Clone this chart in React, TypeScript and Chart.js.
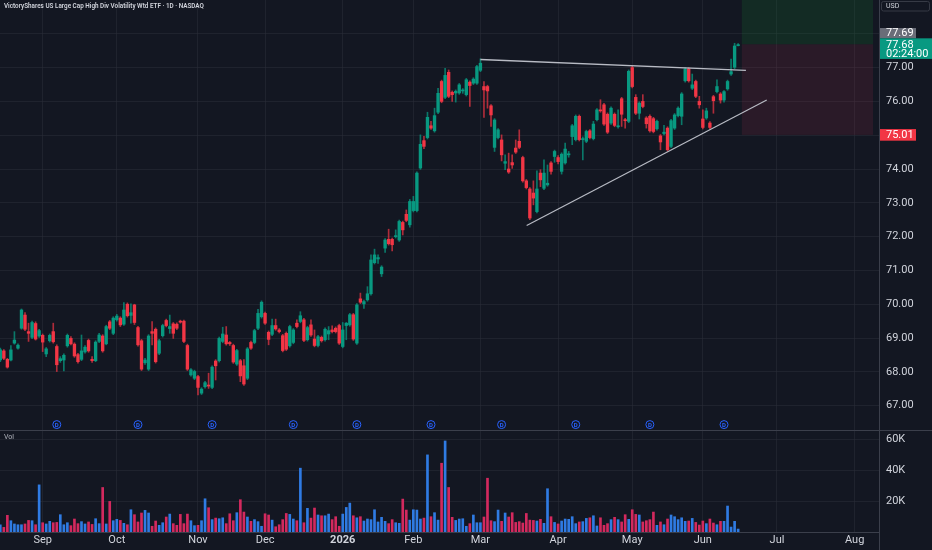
import React, { useEffect, useRef } from 'react';
import { Chart, registerables } from 'chart.js';

Chart.register(...registerables);

// ---------- data ----------
const TITLE = 'VictoryShares US Large Cap High Div Volatility Wtd ETF · 1D · NASDAQ';

const OPEN = [
  68.35,68.62,68.37,68.35,68.85,68.70,69.29,69.68,69.19,69.02,
  69.43,69.06,69.08,68.53,68.92,69.19,68.75,68.33,68.35,68.77,
  68.99,68.82,68.51,68.37,68.59,68.93,68.37,68.33,68.90,69.06,
  68.83,69.48,69.14,69.54,69.59,69.41,70.00,69.67,69.98,69.31,
  68.92,68.27,68.08,69.19,69.26,68.55,69.07,69.52,69.28,69.42,
  69.41,69.50,69.50,68.78,67.91,67.81,67.86,67.37,67.56,67.61,
  67.54,68.32,68.33,68.90,69.09,68.87,68.78,68.23,68.33,68.18,
  67.81,68.87,68.87,69.29,69.63,69.73,69.17,69.11,69.37,69.24,
  69.07,69.14,68.77,68.87,69.44,69.49,69.54,68.95,69.39,68.97,
  68.78,69.02,68.95,69.12,69.24,69.29,69.37,68.75,69.37,69.39,
  69.69,68.85,70.16,70.01,70.13,70.31,71.23,71.34,70.90,71.66,
  71.92,71.92,72.00,71.90,72.42,72.66,72.35,72.77,72.77,74.03,
  74.84,74.93,75.28,75.13,75.68,76.59,76.12,76.86,76.27,76.25,
  76.25,76.31,76.20,76.57,76.54,76.54,76.92,76.44,76.44,75.87,
  74.64,74.93,74.86,74.17,74.00,74.19,74.62,74.82,74.34,73.65,
  73.41,73.29,72.74,73.88,73.43,73.53,74.18,74.37,74.34,73.93,
  74.18,74.42,74.96,74.87,75.56,74.87,74.82,75.13,74.90,75.46,
  75.75,75.90,75.62,75.36,75.62,75.25,76.08,75.46,75.41,77.00,
  76.12,75.65,76.00,75.51,75.56,75.49,75.19,74.98,75.05,75.21,
  74.67,75.21,75.58,75.56,76.61,76.96,76.39,76.59,76.00,75.48,
  75.51,75.36,76.14,76.29,76.22,76.04,76.37,76.81,77.01,77.65,
];
const HIGH = [
  68.70,68.66,68.40,68.78,69.19,68.83,69.86,69.75,69.44,69.50,
  69.48,69.26,69.12,68.72,69.12,69.44,68.80,68.45,68.53,69.12,
  69.04,68.86,68.55,69.09,68.78,68.97,68.45,68.92,69.14,69.10,
  69.38,69.52,69.63,69.70,69.63,70.05,70.04,70.01,70.00,69.35,
  68.96,68.40,69.10,69.49,69.30,68.96,69.41,69.56,69.68,69.46,
  69.45,69.53,69.53,68.82,68.10,68.05,67.90,67.53,67.72,67.96,
  68.18,68.36,69.03,69.32,69.34,68.90,68.82,68.67,68.37,68.36,
  68.72,68.91,69.26,69.85,70.10,69.77,69.21,69.56,69.56,69.28,
  69.11,69.18,69.38,69.28,69.54,69.78,69.58,69.35,69.54,69.24,
  69.08,69.06,69.30,69.34,69.36,69.33,69.41,69.46,69.46,69.73,
  69.73,70.02,70.33,70.12,70.52,71.46,71.63,71.46,71.14,71.94,
  72.22,71.96,72.20,72.49,72.46,72.79,73.10,73.19,73.92,75.01,
  74.97,75.68,75.41,75.80,76.39,76.63,76.98,76.93,76.31,76.34,
  76.53,76.38,76.68,76.61,76.70,77.07,77.26,76.59,76.48,75.91,
  75.49,75.20,75.01,74.42,74.47,74.42,74.86,75.16,74.38,73.69,
  73.45,73.65,73.95,73.98,74.27,74.12,74.22,74.56,74.40,74.48,
  74.77,74.52,75.32,75.60,75.60,74.95,75.15,75.17,75.41,75.79,
  76.05,75.94,75.66,75.84,75.66,75.75,76.12,75.50,76.93,77.04,
  76.20,75.99,76.20,75.55,75.60,75.53,75.45,75.02,75.29,75.25,
  75.47,75.64,75.84,76.26,77.00,77.00,76.81,76.63,76.15,75.75,
  75.80,75.40,76.18,76.64,76.26,76.32,76.63,77.25,77.72,77.71,
];
const LOW = [
  68.30,68.36,68.11,68.32,68.82,68.67,69.26,69.22,68.90,68.98,
  68.94,69.02,68.60,68.45,68.88,68.85,68.01,68.28,68.03,68.73,
  68.80,68.43,68.26,68.33,68.55,68.58,68.28,68.30,68.86,68.58,
  68.80,69.25,69.10,69.50,69.34,69.37,69.62,69.44,69.40,68.76,
  68.04,68.22,68.04,68.80,68.26,68.51,69.03,69.33,69.14,68.99,
  69.25,69.44,68.86,68.04,67.87,67.77,67.32,67.33,67.52,67.51,
  67.50,67.76,68.29,68.86,68.79,68.78,68.25,68.19,67.71,67.60,
  67.77,68.66,68.83,69.25,69.59,69.40,68.80,69.07,69.23,69.15,
  68.59,68.63,68.73,68.83,69.30,69.45,68.89,68.91,69.05,68.74,
  68.74,68.88,68.91,68.95,69.15,69.15,68.81,68.71,68.95,69.35,
  68.93,68.81,70.02,69.88,70.09,70.27,71.19,71.21,70.82,71.53,
  71.75,71.58,71.96,71.86,72.05,72.44,72.28,72.73,72.73,73.99,
  74.60,74.89,75.17,75.09,75.64,75.96,76.08,76.11,76.00,75.98,
  76.21,76.24,76.16,75.85,76.50,76.50,76.88,75.53,75.80,75.26,
  74.52,74.89,74.24,73.98,73.87,74.02,74.46,74.60,73.61,73.41,
  72.50,72.94,72.70,73.48,73.39,73.49,73.85,74.20,74.15,73.85,
  74.14,74.35,74.72,74.83,74.83,74.27,74.78,74.89,74.86,75.42,
  75.68,75.29,75.05,75.32,75.25,75.21,75.26,75.21,75.37,76.40,
  75.61,75.48,75.81,75.21,75.09,75.07,75.15,74.57,75.01,74.53,
  74.63,75.17,75.54,75.31,76.57,76.57,76.35,76.11,75.80,75.19,
  75.47,75.19,75.65,76.25,75.95,75.98,76.33,76.77,76.97,77.64,
];
const CLOSE = [
  68.65,68.40,68.14,68.65,68.94,68.79,69.83,69.26,69.14,69.46,
  68.97,69.22,68.88,68.68,69.08,68.89,68.21,68.39,68.49,69.08,
  68.83,68.47,68.30,68.62,68.73,68.62,68.33,68.88,69.09,68.62,
  69.34,69.29,69.59,69.65,69.39,69.83,69.66,69.75,69.46,68.80,
  68.08,68.35,69.06,69.14,68.30,68.92,69.37,69.37,69.34,69.14,
  69.29,69.47,68.90,68.08,68.06,68.01,67.54,67.49,67.68,67.58,
  68.14,68.18,68.99,69.12,68.83,68.83,68.29,68.63,67.88,67.64,
  68.68,68.70,69.22,69.73,70.06,69.44,68.96,69.37,69.27,69.19,
  68.63,68.67,69.34,69.24,69.34,69.66,68.93,69.31,69.09,68.78,
  69.04,68.92,69.26,69.22,69.19,69.19,68.85,69.24,69.44,69.69,
  68.97,69.98,70.06,70.08,70.31,71.31,71.46,71.38,71.10,71.90,
  71.79,71.76,72.02,72.45,72.20,72.48,73.04,73.04,73.88,74.73,
  74.67,75.53,75.21,75.58,76.24,76.00,76.77,76.15,76.20,76.30,
  76.49,76.34,76.64,76.47,76.66,77.03,77.13,76.34,76.31,75.60,
  75.45,75.16,74.42,74.22,73.91,74.12,74.50,74.64,73.65,73.45,
  72.55,73.14,73.41,73.68,73.88,73.58,73.93,74.52,74.22,74.44,
  74.59,74.45,75.28,75.56,74.87,74.90,75.11,74.93,75.33,75.75,
  75.72,75.33,75.09,75.80,75.29,75.28,75.62,75.43,76.89,76.44,
  75.65,75.95,75.85,75.34,75.13,75.11,75.41,74.80,75.09,74.57,
  75.43,75.60,75.80,76.22,76.96,76.61,76.49,76.15,75.90,75.23,
  75.72,75.23,76.02,76.44,76.04,76.29,76.59,76.88,77.64,77.68,
];
const VOLUME_K = [
  4.7,3.0,10.8,7.3,5.2,4.7,4.7,5.2,7.5,7.3,
  4.7,30.5,6.0,5.2,6.9,6.0,6.2,11.2,4.7,6.0,
  4.1,8.4,5.4,6.7,5.2,6.5,4.9,8.6,5.4,28.8,
  5.2,19.8,7.3,8.2,7.5,5.6,4.7,14.4,11.2,6.5,
  12.3,14.0,12.3,3.7,7.1,4.3,6.0,9.7,11.6,5.4,
  4.3,11.4,5.4,11.6,7.3,4.1,4.3,7.3,21.5,15.7,
  8.0,9.0,8.6,9.2,5.4,11.8,7.3,12.5,20.9,12.9,
  9.7,6.9,8.0,6.7,3.7,11.8,11.0,7.7,3.4,4.7,
  8.0,12.0,11.4,8.4,7.3,41.3,6.0,15.3,9.0,15.5,
  11.0,10.5,10.5,11.6,8.0,9.9,3.7,11.6,15.9,18.7,
  10.5,9.2,9.9,7.1,8.4,8.0,14.4,6.5,9.5,6.9,
  5.4,8.0,6.0,5.6,21.3,14.2,7.7,14.4,14.2,8.4,
  9.0,49.9,9.9,12.5,7.7,44.5,58.9,28.8,9.5,7.5,
  8.4,8.6,3.7,5.4,11.0,6.0,6.0,9.7,34.8,7.3,
  6.7,14.2,6.9,12.3,9.7,12.5,6.2,6.7,5.8,12.0,
  7.7,7.5,7.1,8.2,5.6,28.0,9.9,6.2,5.2,7.1,
  8.4,8.2,9.9,5.4,6.5,6.7,8.8,9.2,10.5,3.9,
  9.2,4.3,5.4,8.0,9.5,8.0,6.5,11.2,8.2,14.4,
  11.4,11.0,6.5,7.3,8.0,12.9,4.3,6.5,4.7,8.4,
  11.0,9.9,8.0,9.2,6.9,7.1,8.8,6.2,4.5,7.1,
  5.4,8.4,5.8,4.7,6.9,6.9,16.8,3.2,6.9,1.9,
];

// month start positions (bar index of first trading day) and their labels
const MONTH_TICKS = [12, 33, 56, 75, 97, 117, 136, 158, 179, 199, 220, 242];
const MONTH_LABELS = ['Sep', 'Oct', 'Nov', 'Dec', '2026', 'Feb', 'Mar', 'Apr', 'May', 'Jun', 'Jul', 'Aug'];
const PRICE_TICKS = [67, 68, 69, 70, 71, 72, 73, 74, 75, 76, 77, 78];
const VOLUME_TICKS_K = [20, 40, 60];
const DIVIDEND_BARS = [16, 39, 60, 83, 101, 122, 142, 163, 184, 205];

// drawings
const RESISTANCE = [{ x: 136, y: 77.24 }, { x: 211.2, y: 76.92 }];
const SUPPORT = [{ x: 149.1, y: 72.33 }, { x: 217.1, y: 76.04 }];
const POSITION = { from: 210.05, to: 247.2, entry: 77.69, stop: 75.01, target: 80.5 };
const LAST_PRICE = 77.68;
const COUNTDOWN = '02:24:00';

// ---------- style ----------
const BG = '#131722';
const UP = '#089981';
const DOWN = '#f23645';
const VOL_UP = '#2f7be3';
const VOL_DOWN = '#d3295e';
const GRID = 'rgba(42,46,57,0.55)';
const LINE = '#3b3f4b';
const TEXT = '#d1d4dc';
const FONT = 'Roboto';

const isUp = (i: number) => CLOSE[i] >= OPEN[i];

const noPad = (s: any) => {
  s.paddingTop = 0;
  s.paddingBottom = 0;
  s.paddingLeft = 0;
  s.paddingRight = 0;
};

const overlayPlugin = {
  id: 'tvOverlay',
  beforeDraw(chart: any) {
    const { ctx } = chart;
    ctx.save();
    ctx.fillStyle = BG;
    ctx.fillRect(0, 0, chart.width, chart.height);
    ctx.restore();
  },
  beforeDatasetsDraw(chart: any) {
    const { ctx, scales } = chart;
    const x = scales.x, y = scales.y;
    const x0 = x.getPixelForValue(POSITION.from);
    const x1 = x.getPixelForValue(POSITION.to);
    const yT = y.getPixelForValue(POSITION.target);
    const yE = y.getPixelForValue(POSITION.entry);
    const yS = y.getPixelForValue(POSITION.stop);
    ctx.save();
    ctx.beginPath();
    ctx.rect(x.left, y.top, x.right - x.left, y.bottom - y.top);
    ctx.clip();
    ctx.fillStyle = 'rgba(22,110,48,0.24)';
    ctx.fillRect(x0, yT, x1 - x0, yE - yT);
    ctx.fillStyle = 'rgba(160,40,70,0.17)';
    ctx.fillRect(x0, yE, x1 - x0, yS - yE);
    ctx.restore();
  },
  afterDatasetsDraw(chart: any) {
    const { ctx } = chart;
    const meta = chart.getDatasetMeta(2);
    ctx.save();
    ctx.fillStyle = '#2962ff';
    ctx.font = `bold 6px ${FONT}`;
    ctx.textAlign = 'center';
    ctx.textBaseline = 'middle';
    meta.data.forEach((p: any) => ctx.fillText('D', p.x, p.y + 0.5));
    ctx.restore();
  },
  afterDraw(chart: any) {
    const { ctx, scales } = chart;
    const y = scales.y, yv = scales.yv;
    const axL = y.left;
    ctx.save();
    // separators
    ctx.strokeStyle = LINE;
    ctx.lineWidth = 1;
    ctx.beginPath();
    ctx.moveTo(0, Math.round(y.bottom) + 0.5);
    ctx.lineTo(chart.width, Math.round(y.bottom) + 0.5);
    ctx.moveTo(0, Math.round(yv.bottom) + 0.5);
    ctx.lineTo(axL, Math.round(yv.bottom) + 0.5);
    ctx.moveTo(Math.round(axL) + 0.5, 0);
    ctx.lineTo(Math.round(axL) + 0.5, chart.height);
    ctx.stroke();

    // title
    ctx.font = `600 8px ${FONT}`;
    const w = ctx.measureText(TITLE).width;
    const fs = (8 * 200) / w;
    ctx.font = `600 ${fs.toFixed(2)}px ${FONT}`;
    ctx.fillStyle = TEXT;
    ctx.textBaseline = 'middle';
    ctx.textAlign = 'left';
    ctx.fillText(TITLE, 4, 6.5);

    // Vol label
    ctx.font = `7px ${FONT}`;
    ctx.fillStyle = '#b2b5be';
    ctx.fillText('Vol', 4, yv.top + 7);

    // USD box
    ctx.strokeStyle = '#363a45';
    ctx.fillStyle = BG;
    ctx.beginPath();
    (ctx as any).roundRect(axL + 2.5, 1.5, 48, 9.5, 2);
    ctx.fill();
    ctx.stroke();
    ctx.fillStyle = TEXT;
    ctx.font = `7px ${FONT}`;
    ctx.fillText('USD', axL + 7, 6.5);

    // price labels
    const gy = y.getPixelForValue(LAST_PRICE);
    const gTop = gy - 6.3;
    const gBot = gy + 14.3;
    ctx.font = `11px ${FONT}`;
    // entry (gray)
    ctx.fillStyle = '#6a6d78';
    ctx.fillRect(axL + 1, gTop - 10.3, 36, 10.3);
    ctx.fillStyle = '#ffffff';
    ctx.fillText(POSITION.entry.toFixed(2), axL + 7, gTop - 4.8);
    // last price (green)
    ctx.fillStyle = UP;
    ctx.fillRect(axL + 1, gTop, chart.width - axL - 1, gBot - gTop);
    ctx.fillStyle = '#ffffff';
    ctx.fillText(LAST_PRICE.toFixed(2), axL + 7, gy + 0.5);
    ctx.fillText(COUNTDOWN, axL + 7, gy + 9.8);
    // stop (red)
    const sy = y.getPixelForValue(POSITION.stop);
    ctx.fillStyle = DOWN;
    ctx.fillRect(axL + 1, sy - 5.8, 36, 11.6);
    ctx.fillStyle = '#ffffff';
    ctx.fillText(POSITION.stop.toFixed(2), axL + 7, sy + 0.5);
    ctx.restore();
  },
};

export default function App() {
  const ref = useRef<HTMLCanvasElement>(null);
  useEffect(() => {
    document.body.style.margin = '0';
    document.body.style.background = BG;
    Chart.defaults.font.family = FONT;

    const idx = OPEN.map((_, i) => i);
    const bodies = idx.map((i) => ({ x: i, y: [OPEN[i], CLOSE[i]] }));
    const wicks = idx.map((i) => ({ x: i, y: [LOW[i], HIGH[i]] }));
    const vols = idx.map((i) => ({ x: i, y: VOLUME_K[i] * 1000 }));
    const candleColors = idx.map((i) => (isUp(i) ? UP : DOWN));
    const wickColors = idx.map((i) => (isUp(i) ? 'rgba(8,153,129,0.75)' : 'rgba(242,54,69,0.7)'));
    const volColors = idx.map((i) => (isUp(i) ? VOL_UP : VOL_DOWN));
    const divMarks = DIVIDEND_BARS.map((b) => ({ x: b, y: 66.44 }));

    const chart = new Chart(ref.current as HTMLCanvasElement, {
      type: 'bar',
      data: {
        datasets: [
          {
            type: 'line',
            data: RESISTANCE,
            yAxisID: 'y',
            borderColor: '#b8bbc4',
            borderWidth: 1.3,
            pointRadius: 0,
            order: 0,
          } as any,
          {
            type: 'line',
            data: SUPPORT,
            yAxisID: 'y',
            borderColor: '#b8bbc4',
            borderWidth: 1.2,
            pointRadius: 0,
            order: 0,
          } as any,
          {
            type: 'scatter',
            data: divMarks,
            yAxisID: 'y',
            pointStyle: 'circle',
            pointRadius: 4,
            borderColor: '#2962ff',
            backgroundColor: BG,
            borderWidth: 1,
            order: 1,
          } as any,
          {
            type: 'bar',
            data: bodies,
            yAxisID: 'y',
            backgroundColor: candleColors,
            barThickness: 2.7,
            minBarLength: 1,
            grouped: false,
            borderWidth: 0,
            order: 2,
          } as any,
          {
            type: 'bar',
            data: wicks,
            yAxisID: 'y',
            backgroundColor: wickColors,
            barThickness: 1,
            grouped: false,
            borderWidth: 0,
            order: 3,
          } as any,
          {
            type: 'bar',
            data: vols,
            yAxisID: 'yv',
            backgroundColor: volColors,
            barThickness: 2,
            grouped: false,
            borderWidth: 0,
            order: 4,
          } as any,
        ],
      },
      options: {
        animation: false,
        responsive: true,
        maintainAspectRatio: false,
        events: [],
        layout: { padding: 0, autoPadding: false },
        plugins: { legend: { display: false }, tooltip: { enabled: false }, title: { display: false } },
        scales: {
          x: {
            type: 'linear',
            min: -0.085,
            max: 248.9,
            offset: false,
            grid: { color: GRID, drawTicks: false, offset: false },
            border: { display: false },
            afterBuildTicks: (s: any) => {
              s.ticks = MONTH_TICKS.map((v) => ({ value: v }));
            },
            afterFit: (s: any) => {
              s.height = 18;
              noPad(s);
            },
            ticks: {
              autoSkip: false,
              maxRotation: 0,
              padding: 2,
              color: TEXT,
              font: (c: any) => ({
                family: FONT,
                size: 11,
                weight: c.tick && c.tick.value === 97 ? 'bold' : 'normal',
              }),
              callback: (v: any) => {
                const k = MONTH_TICKS.indexOf(Number(v));
                return k >= 0 ? MONTH_LABELS[k] : '';
              },
            },
          } as any,
          y: {
            type: 'linear',
            position: 'right',
            stack: 'panes',
            stackWeight: 430,
            min: 66.28,
            max: 79.0,
            grid: { color: GRID, drawTicks: false },
            border: { display: false },
            afterBuildTicks: (s: any) => {
              s.ticks = PRICE_TICKS.map((v) => ({ value: v }));
            },
            afterFit: (s: any) => {
              s.width = 53;
              noPad(s);
            },
            ticks: {
              autoSkip: false,
              padding: 7,
              color: TEXT,
              crossAlign: 'near',
              font: { family: FONT, size: 11 },
              callback: (v: any) => Number(v).toFixed(2),
            },
          } as any,
          yv: {
            type: 'linear',
            position: 'right',
            stack: 'panes',
            stackWeight: 102,
            min: 0,
            max: 66000,
            grid: { color: GRID, drawTicks: false },
            border: { display: false },
            afterBuildTicks: (s: any) => {
              s.ticks = VOLUME_TICKS_K.map((v) => ({ value: v * 1000 }));
            },
            afterFit: (s: any) => {
              s.width = 53;
              noPad(s);
            },
            ticks: {
              autoSkip: false,
              padding: 7,
              color: TEXT,
              crossAlign: 'near',
              font: { family: FONT, size: 11 },
              callback: (v: any) => `${Math.round(Number(v) / 1000)}K`,
            },
          } as any,
        },
      },
      plugins: [overlayPlugin],
    } as any);
    return () => chart.destroy();
  }, []);

  return (
    <div style={{ position: 'fixed', left: 0, top: 0, width: 932, height: 550, background: BG }}>
      <canvas ref={ref} />
    </div>
  );
}
